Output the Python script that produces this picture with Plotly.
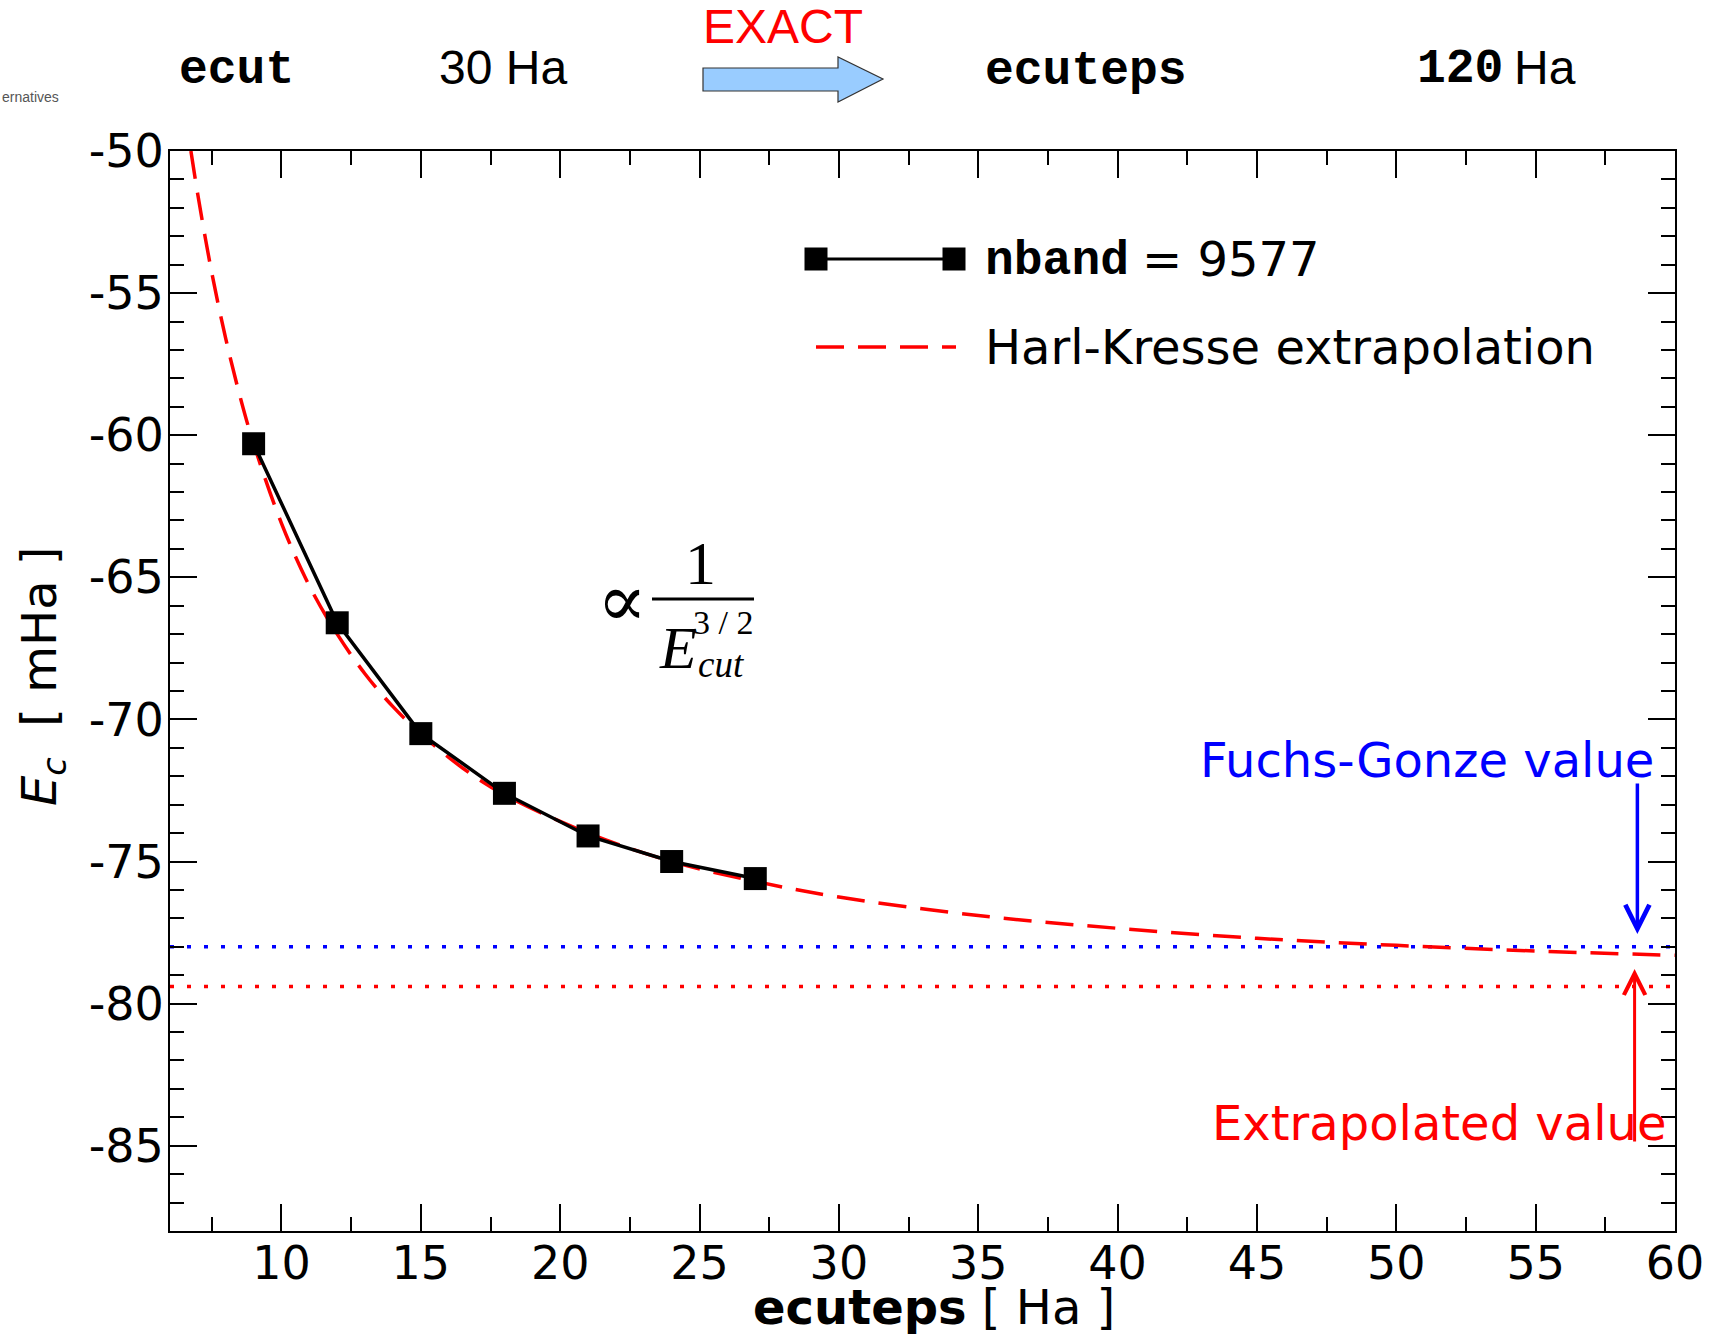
import plotly.graph_objects as go

# ---------------- data ----------------
ecuteps = [9, 12, 15, 18, 21, 24, 27]
ec_nband = [-60.3, -66.6, -70.5, -72.6, -74.1, -75.0, -75.6]

hk_x = [6.75, 7, 7.5, 8, 8.5, 9, 10, 11, 12, 13, 14, 15, 16.5, 18, 21, 24, 27,
        30, 35, 40, 45, 50, 55, 60]
hk_y = [-50.0, -51.55, -54.29, -56.6, -58.59, -60.3, -63.1, -65.3, -67.0, -68.4,
        -69.55, -70.5, -71.71, -72.65, -74.0, -75.0, -75.7,
        -76.25, -76.9, -77.35, -77.7, -77.95, -78.15, -78.3]

fuchs_gonze_value = -78.0
extrapolated_value = -79.4
hline_x = [6, 60]

x_tickvals = [10, 15, 20, 25, 30, 35, 40, 45, 50, 55, 60]
y_tickvals = [-50, -55, -60, -65, -70, -75, -80, -85]
y_ticktext = ["-50", "-55", "-60", "-65", "-70", "-75", "-80", "-85"]

# ---------------- geometry helpers (pixels -> paper) ----------------
W, H = 1723, 1338
L, R, T, B = 170, 48, 151, 107
PW, PH = W - L - R, H - T - B


def xp(px):
    return (px - L) / PW


def yp(py):
    return (H - B - py) / PH


SANS = "DejaVu Sans"
ARIAL = "Liberation Sans"
MONO = "Liberation Mono"
SERIF = "Liberation Serif"

fig = go.Figure()

fig.add_trace(go.Scatter(x=hline_x, y=[fuchs_gonze_value] * 2, mode="lines",
                         line=dict(color="#0000ff", width=3.5, dash="4px,13px"),
                         showlegend=False, hoverinfo="skip"))
fig.add_trace(go.Scatter(x=hline_x, y=[extrapolated_value] * 2, mode="lines",
                         line=dict(color="#ff0000", width=3.5, dash="4px,13px"),
                         showlegend=False, hoverinfo="skip"))
fig.add_trace(go.Scatter(x=hk_x, y=hk_y, mode="lines", line_shape="spline",
                         line=dict(color="#ff0000", width=3.5, dash="28px,14px"),
                         showlegend=False))
fig.add_trace(go.Scatter(x=ecuteps, y=ec_nband, mode="lines+markers",
                         line=dict(color="black", width=3.5),
                         marker=dict(symbol="square", size=23, color="black"),
                         showlegend=False))

axis_common = dict(
    showline=True, linewidth=2, linecolor="black", mirror="ticks",
    ticks="inside", tickwidth=2, tickcolor="black", ticklen=27,
    showgrid=False, zeroline=False,
    tickfont=dict(family=SANS, size=46, color="black"),
)

fig.update_xaxes(range=[6, 60], tickvals=x_tickvals, ticklabelstandoff=-9,
                 minor=dict(dtick=2.5, tick0=7.5, ticks="inside", ticklen=14,
                            tickwidth=2, tickcolor="black", showgrid=False),
                 **axis_common)
fig.update_yaxes(range=[-88, -50], tickvals=y_tickvals, ticktext=y_ticktext,
                 ticklabelstandoff=-5,
                 minor=dict(dtick=1, tick0=-50, ticks="inside", ticklen=14,
                            tickwidth=2, tickcolor="black", showgrid=False),
                 **axis_common)

ann = []
shapes = []


def txt(text, px, py, family, size, color="black", xanchor="center",
        yanchor="middle", textangle=0):
    ann.append(dict(text=text, x=xp(px), y=yp(py), xref="paper", yref="paper",
                    showarrow=False, xanchor=xanchor, yanchor=yanchor,
                    textangle=textangle,
                    font=dict(family=family, size=size, color=color)))


# top row
txt("<b>ecut</b>", 236, 70, MONO, 48)
txt("30 Ha", 503, 68, ARIAL, 48)
txt("EXACT", 783, 27, ARIAL, 48, color="#ff0000")
txt("<b>ecuteps</b>", 1086, 71, MONO, 48)
txt("<b>120</b>", 1505, 69, MONO, 48, xanchor="right")
txt("Ha", 1512, 68, ARIAL, 48, xanchor="left")
txt("ernatives", 0, 97, ARIAL, 14, color="#555555", xanchor="left")

# block arrow
pts = [(703, 68), (838, 68), (838, 57), (883, 79), (838, 102), (838, 91), (703, 91)]
path = "M " + " L ".join(f"{xp(a):.5f},{yp(b):.5f}" for a, b in pts) + " Z"
shapes.append(dict(type="path", path=path, xref="paper", yref="paper",
                   fillcolor="#99ccff", line=dict(color="#333333", width=1.2)))

# legend
shapes.append(dict(type="line", xref="paper", yref="paper", x0=xp(816), x1=xp(954),
                   y0=yp(259), y1=yp(259), line=dict(color="black", width=3)))
for cx in (816, 954):
    shapes.append(dict(type="rect", xref="paper", yref="paper",
                       x0=xp(cx - 11.5), x1=xp(cx + 11.5),
                       y0=yp(259 + 11.5), y1=yp(259 - 11.5),
                       fillcolor="black", line=dict(width=0)))
shapes.append(dict(type="line", xref="paper", yref="paper", x0=xp(816), x1=xp(956),
                   y0=yp(347), y1=yp(347),
                   line=dict(color="#ff0000", width=3.5, dash="28px,14px")))
txt("<b>nband</b>", 983, 261, MONO, 48, xanchor="left")
txt("= 9577", 1140, 259, SANS, 48, xanchor="left")
txt("Harl-Kresse extrapolation", 983, 347, SANS, 48, xanchor="left")

# formula  ∝ 1 / E_cut^{3/2}
txt("∝", 622, 600, "DejaVu Serif", 74)
txt("1", 700, 563, SERIF, 62)
shapes.append(dict(type="line", xref="paper", yref="paper", x0=xp(652), x1=xp(754),
                   y0=yp(599), y1=yp(599), line=dict(color="black", width=3)))
txt("<i>E</i>", 678, 648, SERIF, 60)
txt("3 / 2", 723, 622, SERIF, 34)
txt("<i>cut</i>", 721, 664, SERIF, 37)

# value labels and arrows
ann.append(dict(text="Fuchs-Gonze value", x=59.32, y=-71.43, xref="x", yref="y",
                showarrow=False, xanchor="right", yanchor="middle",
                font=dict(family=SANS, size=48, color="#0000ff")))
ann.append(dict(text="Extrapolated value", x=59.75, y=-84.2, xref="x", yref="y",
                showarrow=False, xanchor="right", yanchor="middle",
                font=dict(family=SANS, size=48, color="#ff0000")))
ann.append(dict(text="", x=58.65, y=-77.55, ax=58.65, ay=-72.2, xref="x", yref="y",
                axref="x", ayref="y", showarrow=True, arrowhead=5, arrowsize=1.35,
                arrowwidth=3.5, arrowcolor="#0000ff"))
ann.append(dict(text="", x=58.55, y=-78.78, ax=58.55, ay=-84.9, xref="x", yref="y",
                axref="x", ayref="y", showarrow=True, arrowhead=5, arrowsize=1.4,
                arrowwidth=3, arrowcolor="#ff0000"))

# axis titles
txt("<b>ecuteps</b> [ Ha ]", 934, 1337, SANS, 48, yanchor="bottom")
txt("<i>E</i><sub><i>c</i></sub>&nbsp; [ mHa ]", 42, 676, SANS, 48, textangle=-90)

fig.update_layout(
    width=W, height=H, autosize=False,
    margin=dict(l=L, r=R, t=T, b=B, pad=0),
    paper_bgcolor="white", plot_bgcolor="white",
    annotations=ann, shapes=shapes, showlegend=False,
)

fig.write_html("out.html")
